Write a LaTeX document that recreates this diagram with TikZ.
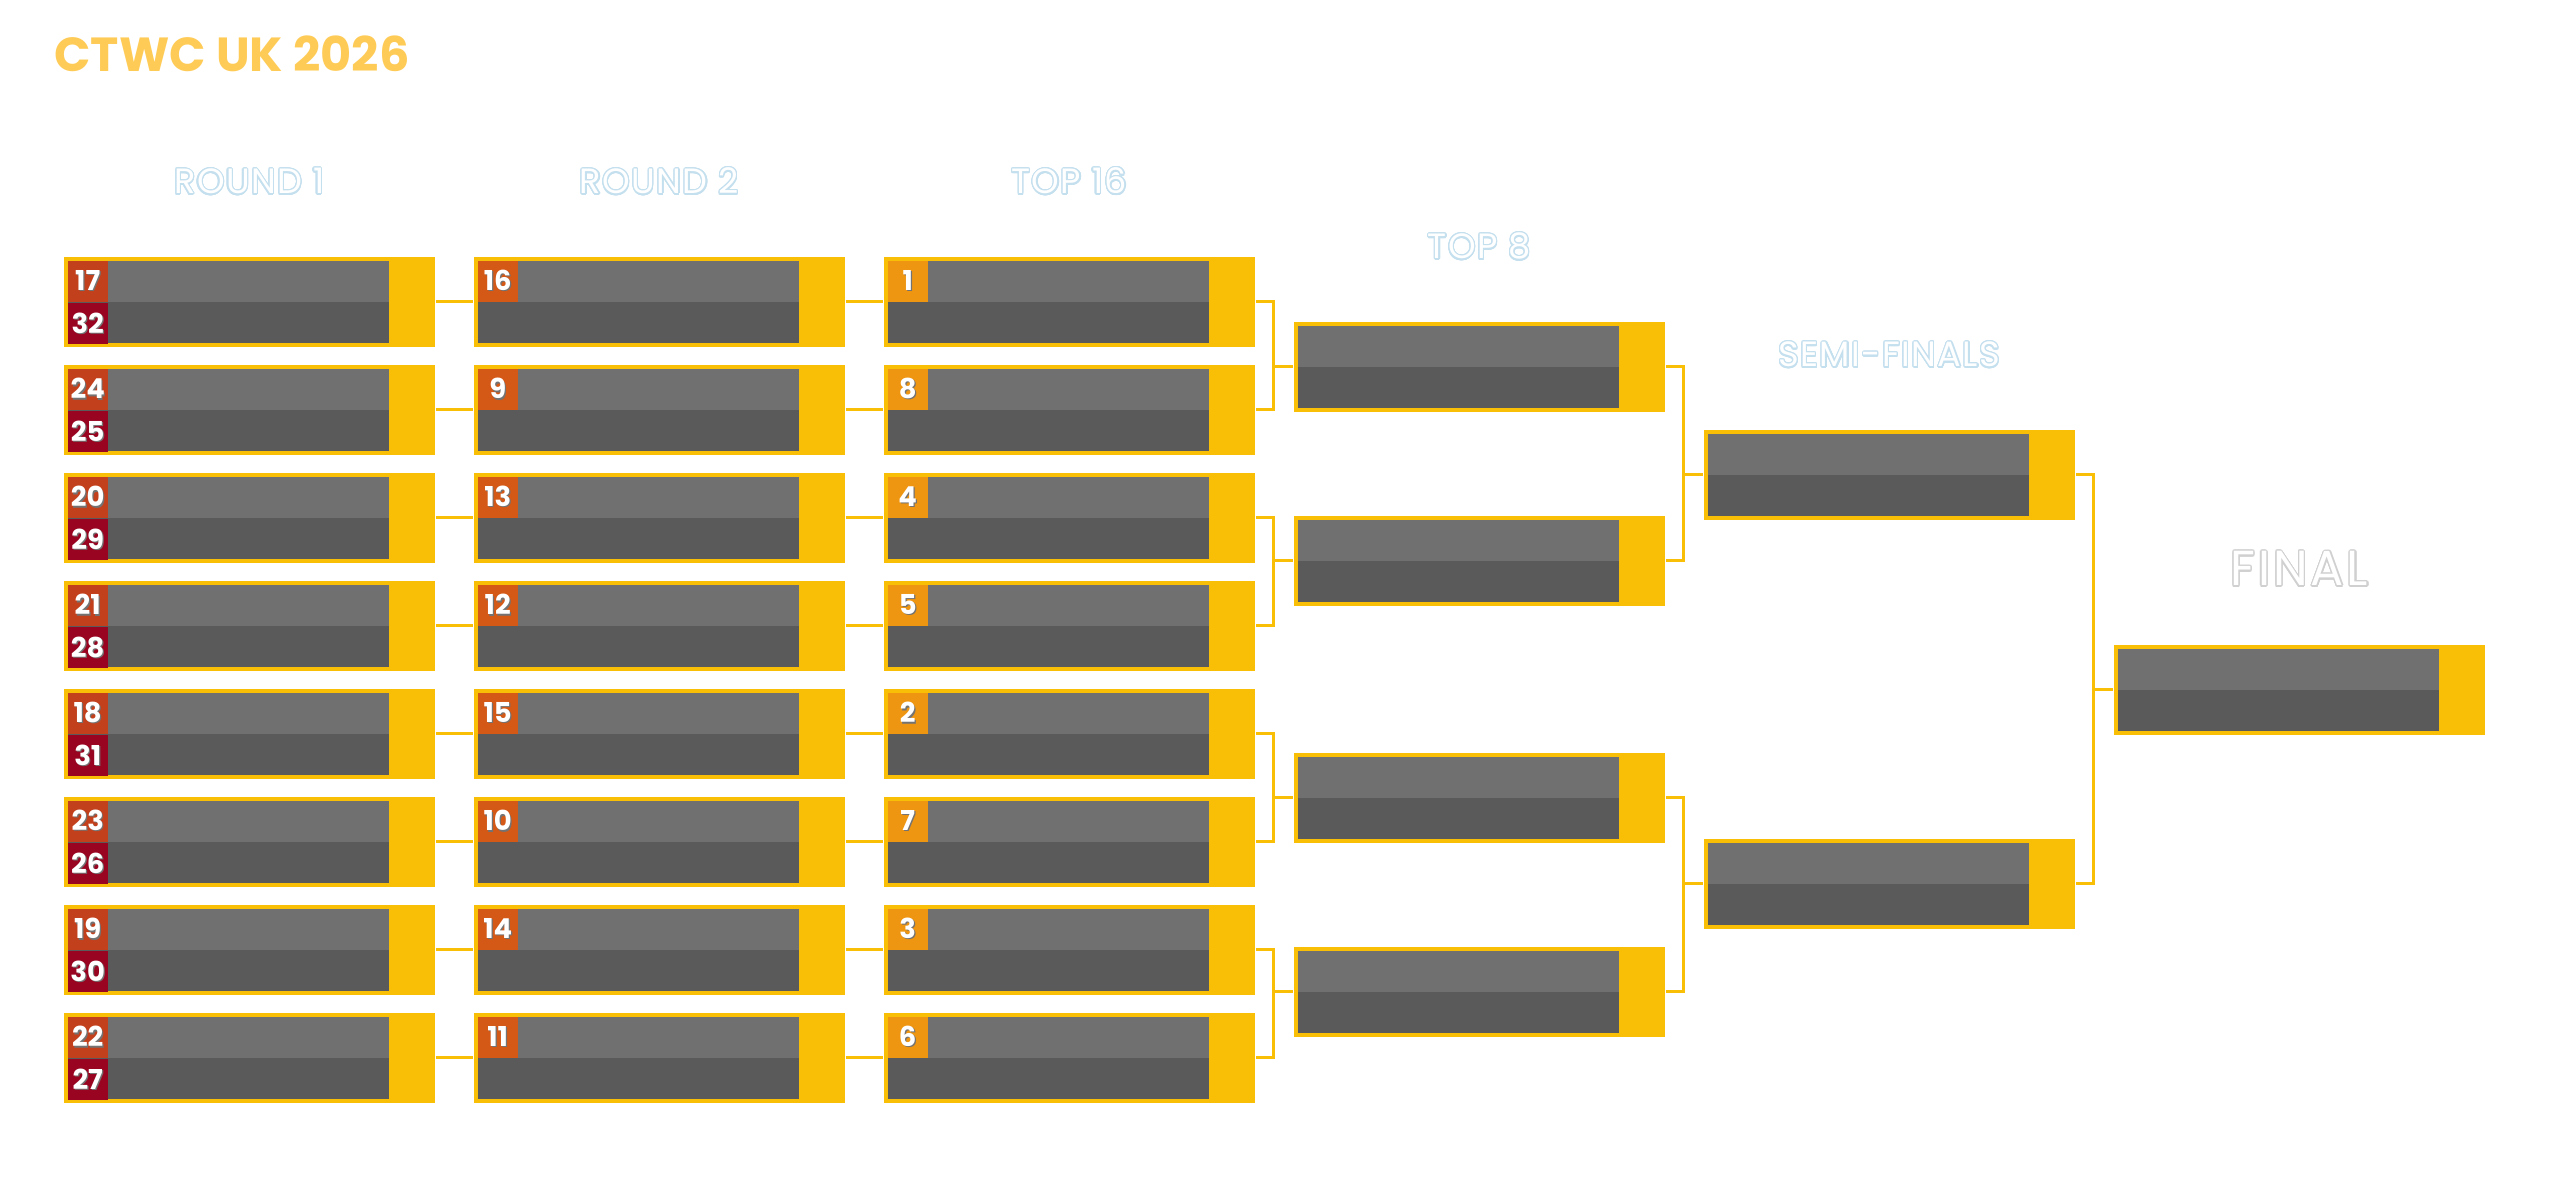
\documentclass[tikz,border=0pt]{standalone}
\usepackage{fontspec}
\setmainfont{Poppins}
\usepackage{xcolor}
\usepackage{tikz}
\usepackage{contour}
\usetikzlibrary{positioning,calc}

\definecolor{cupyellow}{HTML}{F9BE06}
\definecolor{titlegold}{HTML}{FFCB57}
\definecolor{slotlight}{HTML}{707070}
\definecolor{slotdark}{HTML}{5A5A5A}
\definecolor{seedred}{HTML}{C3401C}
\definecolor{seedwine}{HTML}{990521}
\definecolor{seedrust}{HTML}{D45816}
\definecolor{seedamber}{HTML}{EE9511}
\definecolor{ghostblue}{HTML}{C4DFEE}
\definecolor{ghostgrey}{HTML}{D0D0D0}

\contourlength{0.35pt}
\contournumber{24}

% seed number with a small drop shadow
\newcommand{\seednum}[1]{\makebox[0pt][l]{\kern0.35pt\raisebox{-0.35pt}{\textcolor{black!55}{#1}}}#1}

\tikzset{
	match/.style={
			rectangle, anchor=north west, inner sep=0pt,
			fill=cupyellow,
			minimum width=3.71cm, minimum height=0.90cm,
			path picture={
					\fill[slotlight] ([shift={(0.04cm,-0.04cm)}]path picture bounding box.north west)
					rectangle ([shift={(3.25cm,-0.45cm)}]path picture bounding box.north west);
					\fill[slotdark] ([shift={(0.04cm,-0.45cm)}]path picture bounding box.north west)
					rectangle ([shift={(3.25cm,-0.86cm)}]path picture bounding box.north west);
				}
		},
	seed/.style={
			rectangle, anchor=north west, inner sep=0pt,
			minimum width=0.40cm, minimum height=0.41cm,
			text=white, font=\fontsize{7.8}{8}\selectfont\bfseries
		},
	link/.style={draw=cupyellow, line width=0.035cm, line join=miter},
	heading/.style={anchor=base, text=white,
			font=\fontsize{10}{11}\selectfont\addfontfeature{LetterSpace=4}},
	title/.style={anchor=base west, text=titlegold, font=\fontsize{13.6}{15}\selectfont\bfseries}
}

\begin{document}
\begin{tikzpicture}[x=0.01cm, y=-0.01cm]
	\useasboundingbox (0,0) rectangle (2560,1180);

	\node[title] (title) at (42,72) {CTWC UK 2026};

	% ROUND 1
	\foreach \a/\b [count=\k from 0] in {17/32,24/25,20/29,21/28,18/31,23/26,19/30,22/27}{
			\node[match] (r1-\k) at (63,{256+108*\k}) {};
			\node[seed, fill=seedred] (sd\a) at ([shift={(0.04cm,-0.04cm)}]r1-\k.north west) {\seednum{\a}};
			\node[seed, fill=seedwine] (sd\b) at (sd\a.south west) {\seednum{\b}};
		}

	% ROUND 2
	\foreach \a [count=\k from 0] in {16,9,13,12,15,10,14,11}{
			\node[match] (r2-\k) at (473,{256+108*\k}) {};
			\node[seed, fill=seedrust] (sd\a) at ([shift={(0.04cm,-0.04cm)}]r2-\k.north west) {\seednum{\a}};
			\draw[link] (r1-\k.east) -- (r2-\k.west);
		}

	% TOP 16
	\foreach \a [count=\k from 0] in {1,8,4,5,2,7,3,6}{
			\node[match] (t16-\k) at (883,{256+108*\k}) {};
			\node[seed, fill=seedamber] (sd\a) at ([shift={(0.04cm,-0.04cm)}]t16-\k.north west) {\seednum{\a}};
			\draw[link] (r2-\k.east) -- (t16-\k.west);
		}

	% TOP 8
	\node[match] (t8-1) at (1293,321) {};
	\node[match] (t8-2) at (1293,515) {};
	\node[match] (t8-3) at (1293,752) {};
	\node[match] (t8-4) at (1293,946) {};

	% SEMI-FINALS
	\node[match] (sf-1) at (1703,429) {};
	\node[match] (sf-2) at (1703,838) {};

	% FINAL
	\node[match] (fin) at (2113,644) {};

	% brackets
	\foreach \u/\v/\w in {t16-0/t16-1/t8-1, t16-2/t16-3/t8-2, t16-4/t16-5/t8-3, t16-6/t16-7/t8-4,
			t8-1/t8-2/sf-1, t8-3/t8-4/sf-2, sf-1/sf-2/fin}{
			\draw[link] (\u.east) -| ([xshift=-0.195cm]\w.west) |- (\v.east);
			\draw[link] (\w.west) -- ++(-0.195cm,0);
		}

	% column headings
	\node[heading] (h-r1) at ([yshift=0.62cm]r1-0.north) {\contour{ghostblue}{ROUND 1}};
	\node[heading] (h-r2) at ([yshift=0.62cm]r2-0.north) {\contour{ghostblue}{ROUND 2}};
	\node[heading] (h-t16) at ([yshift=0.62cm]t16-0.north) {\contour{ghostblue}{TOP 16}};
	\node[heading] (h-t8) at ([yshift=0.62cm]t8-1.north) {\contour{ghostblue}{TOP 8}};
	\node[heading] (h-sf) at ([yshift=0.62cm]sf-1.north) {\contour{ghostblue}{SEMI-FINALS}};
	\node[heading, font=\fontsize{14}{15}\selectfont\addfontfeature{LetterSpace=6}] (h-fin)
	at ([yshift=0.58cm]fin.north) {\contour{ghostgrey}{FINAL}};

\end{tikzpicture}
\end{document}
